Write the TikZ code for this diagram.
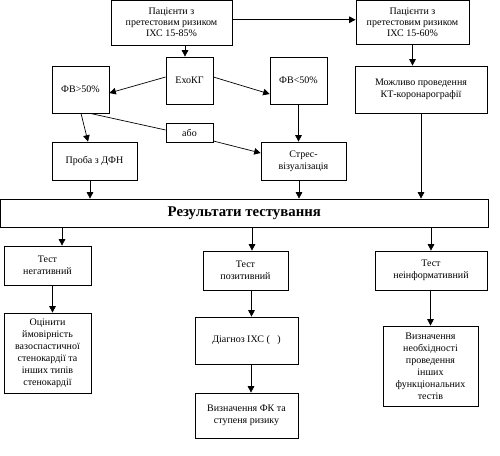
\documentclass[tikz,border=0pt]{standalone}
\usepackage{fontspec}
\setmainfont{Liberation Serif}
\usetikzlibrary{arrows.meta}
\begin{document}
\begin{tikzpicture}[x=1pt,y=-1pt,
 box/.style={draw=black, line width=0.7pt, inner sep=0pt, align=center, font=\fontsize{10}{12}\selectfont},
 arr/.style={line width=0.7pt, -{Triangle[length=6.5pt,width=6.5pt]}},
 ln/.style={line width=0.7pt}]
\useasboundingbox (0,0) rectangle (500,455);
\node[box, minimum width=121pt, minimum height=44.5pt, font=\fontsize{10}{11}\selectfont] (A) at (171.5,22.75) {Пацієнти з\\претестовим ризиком\\ІХС 15-85\%};
\node[box, minimum width=113pt, minimum height=43.5pt, font=\fontsize{10}{11}\selectfont] (B) at (412.5,22.25) {Пацієнти з\\претестовим ризиком\\ІХС 15-60\%};
\node[box, minimum width=47pt, minimum height=47pt] (eho) at (189.5,80.5) {ЕхоКГ};
\node[box, minimum width=57pt, minimum height=47pt] (fvg) at (80.5,89.5) {ФВ>50\%};
\node[box, minimum width=57pt, minimum height=47pt] (fvl) at (298.5,80.5) {ФВ<50\%};
\node[box, minimum width=132pt, minimum height=47pt] (kt) at (421,89.5) {Можливо проведення\\КТ-коронарографії};
\node[box, minimum width=47pt, minimum height=19pt] (abo) at (189.5,132.5) {\raisebox{-2pt}{або}};
\node[box, minimum width=85pt, minimum height=38pt] (dfn) at (94.5,161) {Проба з ДФН};
\node[box, minimum width=85pt, minimum height=38pt] (stres) at (303.5,161) {Стрес-\\візуалізація};
\node[box, minimum width=487.5pt, minimum height=28pt, font=\fontsize{14.8}{16}\selectfont\bfseries] (res) at (244.25,213) {Результати тестування};
\node[box, minimum width=87pt, minimum height=39pt] (neg) at (47.5,265.5) {Тест\\негативний};
\node[box, minimum width=85pt, minimum height=39pt] (pos) at (245.5,270.5) {Тест\\позитивний};
\node[box, minimum width=112pt, minimum height=39pt] (ninf) at (431,270.5) {Тест\\неінформативний};
\node[box, minimum width=87pt, minimum height=80pt] (ocin) at (47.5,353) {Оцінити\\ймовірність\\вазоспастичної\\стенокардії та\\інших типів\\стенокардії};
\node[box, minimum width=103pt, minimum height=47pt] (diag) at (246.5,340.5) {Діагноз ІХС (\ \ \ )};
\node[box, minimum width=103pt, minimum height=45pt] (fk) at (246.5,415.5) {Визначення ФК та\\ступеня ризику};
\node[box, minimum width=95pt, minimum height=80pt] (neobh) at (430.5,366) {Визначення\\необхідності\\проведення\\інших\\функціональних\\тестів};
% connectors
\draw[arr] ([yshift=3pt]A.east) -- ([yshift=3pt]A.east -| B.west);
\draw[arr] ([xshift=-4.5pt]eho.north |- A.south) -- ([xshift=-4.5pt]eho.north);
\draw[arr] (B.south) -- (B.south |- kt.north);
\draw[arr] ([yshift=3.5pt]eho.west) -- ([yshift=-3.5pt]fvg.east);
\draw[arr] ([yshift=3.5pt]eho.east) -- ([yshift=-13.5pt]fvl.west);
\draw[arr] ([xshift=0.5pt]fvg.south) -- ([xshift=-6.5pt]dfn.north);
\draw[ln] ([xshift=9.5pt]fvg.south) -- ([yshift=2.5pt]abo.west);
\draw[arr] ([yshift=-8.5pt]abo.east) -- ([yshift=8pt]stres.west);
\draw[arr] (fvl.south) -- (fvl.south |- stres.north);
\draw[arr] ([xshift=-4.5pt]dfn.south) -- ([xshift=-4.5pt]dfn.south |- res.north);
\draw[arr] ([xshift=-4.5pt]stres.south) -- ([xshift=-4.5pt]stres.south |- res.north);
\draw[arr] (kt.south) -- (kt.south |- res.north);
\draw[arr] ([xshift=14.5pt]neg.north |- res.south) -- ([xshift=14.5pt]neg.north);
\draw[arr] ([xshift=6.5pt]pos.north |- res.south) -- ([xshift=6.5pt]pos.north);
\draw[arr] (ninf.north |- res.south) -- (ninf.north);
\draw[arr] ([xshift=5pt]ocin.north |- neg.south) -- ([xshift=5pt]ocin.north);
\draw[arr] ([xshift=5pt]diag.north |- pos.south) -- ([xshift=5pt]diag.north);
\draw[arr] ([xshift=4.5pt]diag.south) -- ([xshift=4.5pt]fk.north);
\draw[arr] (neobh.north |- ninf.south) -- (neobh.north);
\end{tikzpicture}
\end{document}
